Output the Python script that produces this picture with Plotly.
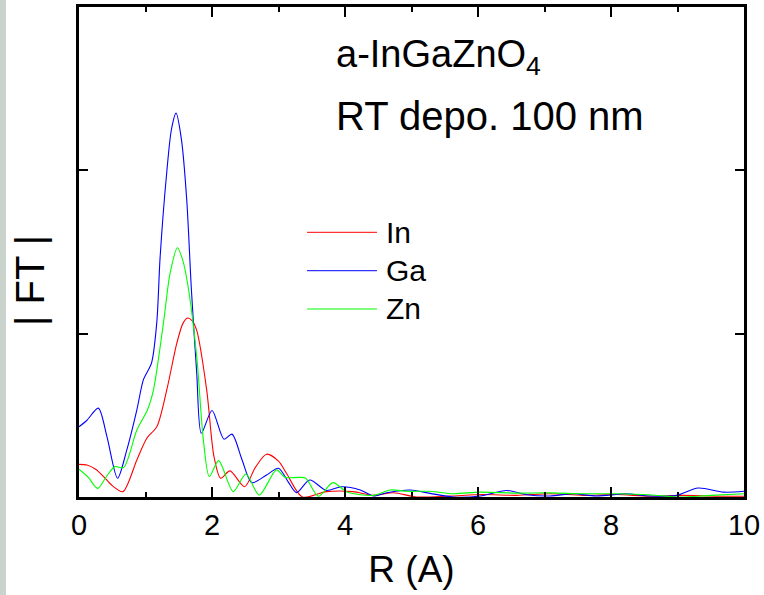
import plotly.graph_objects as go

# EXAFS Fourier transform magnitudes
r_in = [0, 0.12, 0.25, 0.37, 0.5, 0.66, 0.87, 1.02, 1.17, 1.32, 1.47, 1.56, 1.63, 1.70,
        1.77, 1.92, 2.03, 2.13, 2.27, 2.49, 2.65, 2.82, 3.0, 3.12, 3.36, 3.72, 4.12, 4.43,
        4.73, 5.08, 5.58, 6.08, 6.58, 7.08, 7.58, 8.08, 8.58, 9.08, 9.58, 10]
ft_in = [0.2, 0.196, 0.17, 0.125, 0.07, 0.033, 0.227, 0.36, 0.43, 0.656, 0.94, 1.06, 1.096,
         1.08, 1.02, 0.656, 0.247, 0.115, 0.16, 0.063, 0.18, 0.262, 0.22, 0.145, 0.0, 0.033,
         0.033, 0.01, 0.026, 0.0, 0.006, 0.015, 0.01, 0.02, 0.01, 0.015, 0.005, 0.01, 0.005,
         0.005]

r_ga = [0, 0.12, 0.29, 0.42, 0.58, 0.72, 0.87, 0.97, 1.09, 1.17, 1.22, 1.32, 1.39, 1.46,
        1.54, 1.62, 1.69, 1.77, 1.84, 2.0, 2.18, 2.30, 2.45, 2.60, 2.82, 3.0, 3.15, 3.27,
        3.47, 3.72, 3.95, 4.23, 4.43, 4.63, 4.98, 5.28, 5.63, 6.03, 6.43, 6.73, 7.08, 7.43,
        7.78, 8.23, 8.58, 8.99, 9.31, 9.69, 10]
ft_ga = [0.43, 0.47, 0.544, 0.37, 0.115, 0.29, 0.534, 0.72, 0.82, 1.07, 1.47, 1.99, 2.25,
         2.35, 2.19, 1.82, 1.27, 0.76, 0.39, 0.53, 0.354, 0.385, 0.23, 0.088, 0.135, 0.176,
         0.09, 0.027, 0.104, 0.04, 0.063, 0.043, 0.006, 0.026, 0.043, 0.022, 0.0, 0.006,
         0.04, 0.014, 0.006, 0.02, 0.006, 0.02, 0.006, 0.01, 0.055, 0.03, 0.035]

r_zn = [0, 0.14, 0.28, 0.42, 0.54, 0.67, 0.87, 1.03, 1.12, 1.27, 1.37, 1.48, 1.56, 1.64,
        1.77, 1.87, 1.96, 2.10, 2.32, 2.51, 2.71, 2.97, 3.1, 3.3, 3.41, 3.6, 3.82, 4.03,
        4.43, 4.68, 4.93, 5.28, 5.63, 6.03, 6.58, 7.08, 7.58, 8.08, 8.58, 9.04, 9.5, 10]
ft_zn = [0.17, 0.12, 0.053, 0.13, 0.186, 0.18, 0.41, 0.534, 0.656, 1.066, 1.37, 1.526, 1.45,
         1.29, 0.86, 0.35, 0.125, 0.223, 0.033, 0.141, 0.012, 0.166, 0.12, 0.12, 0.115,
         0.005, 0.088, 0.03, 0.01, 0.043, 0.035, 0.035, 0.02, 0.03, 0.024, 0.025, 0.02,
         0.02, 0.014, 0.0, 0.01, 0.02]

names = ['In', 'Ga', 'Zn']
colors = ['#ff0000', '#0000ff', '#00ff00']
xs = [r_in, r_ga, r_zn]
ys = [ft_in, ft_ga, ft_zn]

FONT = 'Liberation Sans, Arial, sans-serif'

fig = go.Figure()
for x, y, nm, col in zip(xs, ys, names, colors):
    fig.add_trace(go.Scatter(x=x, y=y, name=nm, mode='lines',
                             line=dict(color=col, width=1.1, shape='spline', smoothing=0.8),
                             showlegend=False))

# hand-made legend: long key lines like the original
leg_y = [0.5402, 0.4618, 0.3837]
for nm, col, yy in zip(names, colors, leg_y):
    fig.add_shape(type='line', xref='paper', yref='paper', x0=0.3429, x1=0.4481,
                  y0=yy, y1=yy, line=dict(color=col, width=1))
    fig.add_annotation(text=nm, xref='paper', yref='paper', x=0.459, y=yy,
                       xanchor='left', yanchor='middle', showarrow=False,
                       font=dict(family=FONT, size=30, color='black'))

fig.add_annotation(text='a-InGaZnO<sub>4</sub>', xref='paper', yref='paper',
                   x=0.383, y=0.898, xanchor='left', yanchor='middle', showarrow=False,
                   font=dict(family=FONT, size=38, color='black'))
fig.add_annotation(text='RT depo. 100 nm', xref='paper', yref='paper',
                   x=0.383, y=0.777, xanchor='left', yanchor='middle', showarrow=False,
                   font=dict(family=FONT, size=40, color='black'))

# y axis title, sits a little below the middle in the original
fig.add_annotation(text='| FT |', xref='paper', yref='paper', x=-0.0737, y=0.443,
                   xanchor='center', yanchor='middle', textangle=-90, showarrow=False,
                   font=dict(family=FONT, size=40, color='black'))

# grey-green strip at the far left edge of the original screenshot
fig.add_shape(type='rect', xref='paper', yref='paper', x0=-0.1188, x1=-0.1098,
              y0=-0.2, y1=1.0143, line_width=0, fillcolor='#c9d3cb', layer='below')

fig.update_xaxes(
    range=[0, 10], dtick=2, tick0=0, automargin=False,
    ticks='inside', ticklen=10, tickwidth=2, tickcolor='black',
    minor=dict(dtick=1, ticks='inside', ticklen=5, tickwidth=2, tickcolor='black'),
    showline=True, linewidth=3, linecolor='black', mirror='ticks',
    showgrid=False, zeroline=False,
    tickfont=dict(family=FONT, size=29, color='black'),
    title=dict(text='R (A)', font=dict(family=FONT, size=37, color='black'), standoff=17),
)
fig.update_yaxes(
    range=[0, 3.0], tickvals=[1, 2], showticklabels=False, automargin=False,
    ticks='inside', ticklen=9, tickwidth=2, tickcolor='black',
    showline=True, linewidth=3, linecolor='black', mirror='ticks',
    showgrid=False, zeroline=False,
)
fig.update_layout(
    width=764, height=595,
    margin=dict(l=79, r=20, t=7, b=98),
    paper_bgcolor='white', plot_bgcolor='white',
    showlegend=False,
)

fig.write_html('out.html', config={'displayModeBar': False},
               post_script="document.body.style.margin='0';")
